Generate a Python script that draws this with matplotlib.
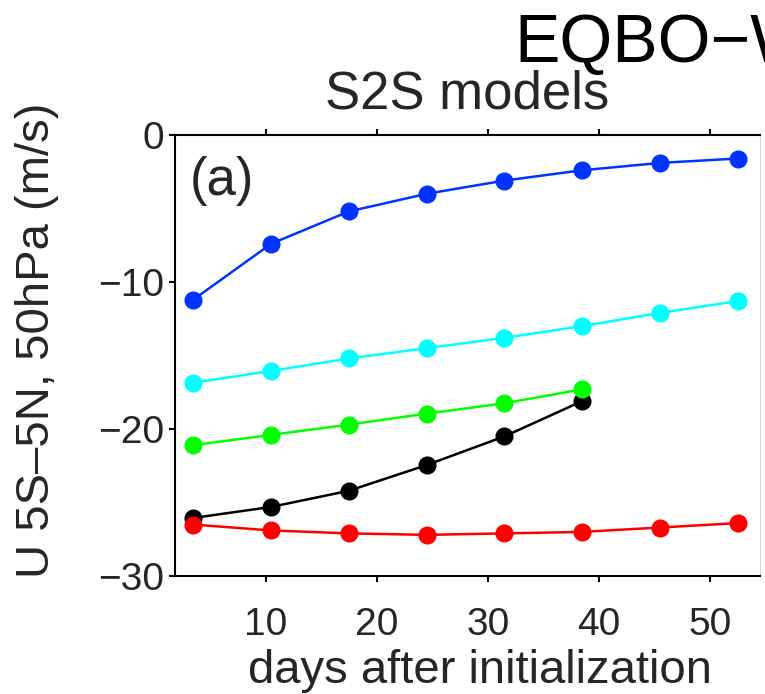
import numpy as np
import matplotlib
matplotlib.use("Agg")
import matplotlib.pyplot as plt

plt.rcParams['font.family'] = ['Liberation Sans', 'DejaVu Sans']

# lead times (days after initialization)
days = [3.5, 10.5, 17.5, 24.5, 31.5, 38.5, 45.5, 52.5]

# U 5S-5N at 50 hPa (m/s), one series per curve
u_blue = [-11.2, -7.4, -5.2, -4.0, -3.1, -2.4, -1.9, -1.6]
u_cyan = [-16.85, -16.05, -15.2, -14.5, -13.8, -13.0, -12.1, -11.3]
u_green = [-21.1, -20.4, -19.7, -18.95, -18.25, -17.3]
u_black = [-26.05, -25.3, -24.2, -22.45, -20.5, -18.1]
u_red = [-26.5, -26.9, -27.1, -27.2, -27.1, -27.0, -26.7, -26.4]

yticks = [0, -10, -20, -30]
ytick_labels = ['0', '\u221210', '\u221220', '\u221230']
xticks = [10, 20, 30, 40, 50]

txt = '#262626'

fig = plt.figure(figsize=(7.65, 6.94), dpi=100)
ax = fig.add_axes([0.2288, 0.170, 0.7647, 0.6355])

ms = 12
lw = 1.8
# black first, the coloured curves sit on top of it
ax.plot(days[:len(u_black)], u_black, '-o', color='black', lw=lw, ms=ms)
ax.plot(days, u_blue, '-o', color='#0033FF', lw=lw, ms=ms)
ax.plot(days, u_cyan, '-o', color='#00FFFF', lw=lw, ms=ms)
ax.plot(days[:len(u_green)], u_green, '-o', color='#00FF00', lw=lw, ms=ms)
ax.plot(days, u_red, '-o', color='#FF0000', lw=lw, ms=ms)

ax.set_xlim(1.85, 54.5)
ax.set_ylim(-30, 0)
ax.set_xticks(xticks)
ax.set_yticks(yticks)
ax.set_yticklabels(ytick_labels)
ax.tick_params(direction='out', length=4, width=1.5, top=True, right=False,
               labelsize=28, colors='black', labelcolor=txt, pad=4)
ax.tick_params(axis='x', pad=18)
for s in ax.spines.values():
    s.set_linewidth(1.5)
ax.spines['right'].set_linewidth(0.5)
ax.spines['right'].set_color('#cccccc')

ax.set_xlabel('days after initialization', fontsize=34, color=txt)
ax.xaxis.set_label_coords(0.522, -0.165)
ax.set_ylabel('U 5S\u20135N, 50hPa (m/s)', fontsize=34, color=txt)
ax.yaxis.set_label_coords(-0.198, 0.535)
ax.set_title('S2S models', fontsize=38, color=txt, pad=19)
ax.text(0.026, 0.952, '(a)', transform=ax.transAxes, fontsize=38, color=txt,
        ha='left', va='top')

fig.text(0.673, 0.911, 'EQBO\u2212WQBO', fontsize=49, color='black',
         ha='left', va='baseline')

fig.savefig('out.png', dpi=100)
